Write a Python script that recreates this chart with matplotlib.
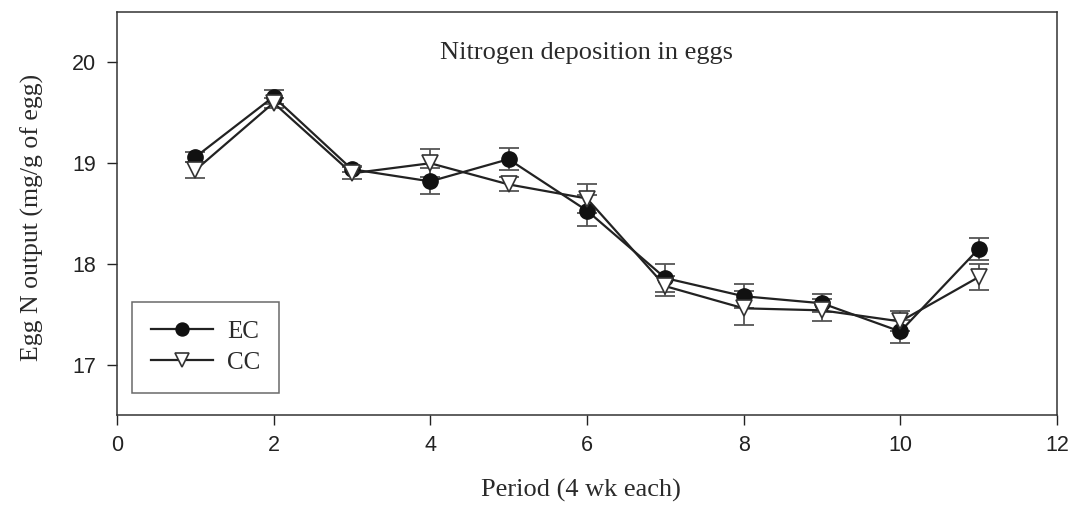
import matplotlib
matplotlib.use("Agg")
import matplotlib.pyplot as plt

period = [1, 2, 3, 4, 5, 6, 7, 8, 9, 10, 11]
ec_mean = [19.06, 19.66, 18.94, 18.82, 19.04, 18.53, 17.86, 17.68, 17.61, 17.33, 18.15]
ec_err = [0.05, 0.07, 0.03, 0.13, 0.11, 0.15, 0.14, 0.12, 0.09, 0.11, 0.11]
cc_mean = [18.93, 19.60, 18.90, 19.00, 18.79, 18.65, 17.78, 17.56, 17.54, 17.43, 17.87]
cc_err = [0.08, 0.05, 0.06, 0.14, 0.07, 0.14, 0.10, 0.17, 0.11, 0.10, 0.13]

serif = "Liberation Serif"
sans = "Liberation Sans"

fig = plt.figure(figsize=(10.72, 5.05), dpi=100)
ax = fig.add_axes([0.109, 0.178, 0.877, 0.798])

line_c = "#222222"
err_c = "#555555"
txt_c = "#2a2a2a"

ax.errorbar(period, ec_mean, yerr=ec_err, fmt="none", ecolor=err_c,
            elinewidth=1.3, capsize=7, capthick=1.3, zorder=2)
ax.errorbar(period, cc_mean, yerr=cc_err, fmt="none", ecolor=err_c,
            elinewidth=1.3, capsize=7, capthick=1.3, zorder=2)
ax.plot(period, ec_mean, color=line_c, lw=1.6, marker="o", ms=11,
        mfc="#111111", mec="#111111", label="EC", zorder=3)
ax.plot(period, cc_mean, color=line_c, lw=1.6, marker="v", ms=12,
        mfc="white", mec="#333333", mew=1.2, label="CC", zorder=3)

ax.set_xlim(0, 12)
ax.set_ylim(16.5, 20.5)
ax.set_xticks(range(0, 13, 2))
ax.set_yticks([17, 18, 19, 20])
ax.tick_params(direction="out", length=7, width=1, colors="#222222",
               labelsize=15.5)
ax.tick_params(axis="x", pad=7)
ax.tick_params(axis="y", pad=8)
for lab in ax.get_xticklabels() + ax.get_yticklabels():
    lab.set_family(sans)
for s in ax.spines.values():
    s.set_color("#333333")
    s.set_linewidth(1.1)

ax.text(6, 20.03, "Nitrogen deposition in eggs", family=serif, fontsize=19,
        ha="center", va="baseline", color=txt_c)
ax.set_xlabel("Period (4 wk each)", family=serif, fontsize=19, color=txt_c)
ax.xaxis.set_label_coords(0.494, -0.158)
ax.set_ylabel("Egg N output (mg/g of egg)", family=serif, fontsize=18.5,
              color=txt_c)
ax.yaxis.set_label_coords(-0.077, 0.49)

leg = ax.legend(loc="lower left", bbox_to_anchor=(0.016, 0.055),
                prop={"family": serif, "size": 18}, frameon=True,
                fancybox=False, edgecolor="#444444", borderpad=0.75,
                handlelength=2.5, handletextpad=0.55, labelspacing=0.35,
                markerscale=0.85, borderaxespad=0)
leg.get_frame().set_linewidth(1.1)
for t in leg.get_texts():
    t.set_color(txt_c)

fig.savefig("out.png", dpi=100)
